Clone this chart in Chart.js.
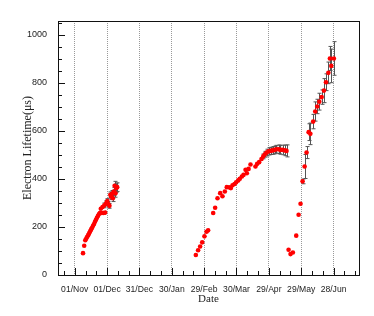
<!DOCTYPE html>
<html>
<head>
<meta charset="utf-8">
<script src="https://cdn.jsdelivr.net/npm/chart.js@4.4.1/dist/chart.umd.min.js"></script>
<style>
  html, body { margin: 0; padding: 0; background: #fff; }
  #wrap { width: 374px; height: 316px; }
</style>
</head>
<body>
<div id="wrap"><canvas id="lifetimeChart"></canvas></div>
<script>
// days counted from 01/Nov
var days = [
    7.7, 8.8, 9.8, 10.7, 11.6, 12.5, 13.4, 14.3, 15.2, 16.1, 17, 17.9, 18.8, 19.7, 20.6, 21.5, 22.4, 23.3,
    24.2, 25, 25.8, 26.6, 27.4, 28.2, 29.2, 30.2, 31.2, 32.2, 33, 33.8, 34.6, 35.4, 36.2, 37, 37.8, 38.6, 39.4,
    112.3, 114.4, 116.3, 118.2, 120.3, 122.2, 123.7, 128.4, 130.2, 132.4, 134.9, 137, 139.2, 141, 143.2,
    144.8, 146.3, 148.2, 149.7, 151.6, 153.1, 155, 156.5, 158.4, 159.6, 161.2, 163, 167.6, 169.2, 171,
    173.2, 174.8, 176.3, 177.9, 179.7, 181.6, 183.4, 185.3, 187.1, 189, 190.8, 192.7, 194.9, 196.4,
    198.3, 200.1, 202.3, 205.4, 207.6, 209.4, 211.3, 213.2, 215, 216.9, 218.5, 221.1, 223, 224.9, 226.8,
    229, 231.1, 233, 235.2, 236.6, 237.9, 240.3
];
var lifetime = [
    91, 122, 145, 152, 159, 166, 174, 182, 190, 197, 205, 212, 222, 230, 238, 246, 253, 258,
    276, 258, 283, 258, 290, 260, 300, 308, 296, 288, 334, 326, 338, 320, 348, 372, 340, 362, 366,
    83, 103, 119, 136, 161, 180, 186, 258, 280, 320, 341, 328, 348, 366, 365,
    362, 374, 379, 386, 394, 401, 410, 417, 438, 424, 442, 460, 452, 463, 470,
    483, 494, 503, 510, 515, 517, 519, 521, 524, 524, 521, 521, 519, 517,
    105, 87, 94, 164, 251, 297, 390, 452, 510, 595, 588, 639, 681, 702, 722,
    741, 768, 803, 842, 902, 871, 902
];
var errors = [
    3, 3, 3, 3, 3, 3, 4, 4, 4, 4, 4, 4, 5, 5, 5, 5, 5, 6,
    6, 6, 8, 8, 10, 8, 10, 10, 10, 10, 12, 12, 14, 14, 16, 18, 16, 18, 18,
    2, 2, 2, 3, 3, 3, 3, 3, 3, 4, 4, 4, 4, 4, 4,
    4, 5, 5, 5, 5, 5, 5, 6, 6, 6, 6, 6, 7, 7, 8,
    8, 10, 12, 14, 15, 15, 16, 16, 16, 18, 18, 20, 22, 25,
    3, 3, 3, 4, 5, 6, 10, 50, 25, 35, 45, 30, 40, 30, 35,
    30, 50, 35, 45, 50, 70, 70
];
var dateTicks = [0, 30, 60, 90, 120, 150, 180, 210, 240];
var dateLabels = ['01/Nov', '01/Dec', '31/Dec', '30/Jan', '29/Feb', '30/Mar', '29/Apr', '29/May', '28/Jun'];
var lifetimeTicks = [0, 200, 400, 600, 800, 1000];

// error bars, inward ticks and the frame, ROOT style
var rootStyle = {
    id: 'rootStyle',
    beforeDatasetsDraw: function (chart) {
        var ctx = chart.ctx, xs = chart.scales.x, ys = chart.scales.y;
        ctx.save();
        ctx.strokeStyle = '#555';
        ctx.lineWidth = 1;
        ctx.beginPath();
        for (var i = 0; i < days.length; i++) {
            var px = Math.round(xs.getPixelForValue(days[i])) + 0.5;
            var top = ys.getPixelForValue(lifetime[i] + errors[i]);
            var bot = ys.getPixelForValue(lifetime[i] - errors[i]);
            ctx.moveTo(px, top); ctx.lineTo(px, bot);
            if (errors[i] > 8) {
                ctx.moveTo(px - 2, top); ctx.lineTo(px + 2, top);
                ctx.moveTo(px - 2, bot); ctx.lineTo(px + 2, bot);
            }
        }
        ctx.stroke();
        ctx.restore();
    },
    afterDraw: function (chart) {
        var ctx = chart.ctx, a = chart.chartArea, xs = chart.scales.x, ys = chart.scales.y;
        ctx.save();
        ctx.strokeStyle = '#111';
        ctx.lineWidth = 1;
        ctx.beginPath();
        for (var d = -10; d <= 260; d += 10) {
            var px = Math.round(xs.getPixelForValue(d)) + 0.5;
            var len = (d % 30 === 0) ? 7 : 4;
            ctx.moveTo(px, a.bottom); ctx.lineTo(px, a.bottom - len);
        }
        for (var v = 0; v <= 1050; v += 50) {
            var py = Math.round(ys.getPixelForValue(v)) + 0.5;
            var l2 = (v % 200 === 0) ? 7 : 4;
            ctx.moveTo(a.left, py); ctx.lineTo(a.left + l2, py);
        }
        ctx.stroke();
        ctx.strokeRect(Math.round(a.left) + 0.5, Math.round(a.top) + 0.5,
            Math.round(a.right - a.left), Math.round(a.bottom - a.top));
        ctx.restore();
    }
};

var ctx = document.getElementById('lifetimeChart');
var chart = new Chart(ctx, {
    type: 'scatter',
    data: {
        datasets: [{
            label: 'Electron Lifetime',
            data: days.map(function (d, i) { return { x: d, y: lifetime[i] }; }),
            backgroundColor: '#ff0000',
            borderWidth: 0,
            pointRadius: 2.3,
            pointHoverRadius: 2.3
        }]
    },
    options: {
        responsive: true,
        maintainAspectRatio: false,
        animation: false,
        events: [],
        layout: { padding: { left: 0, right: 15, top: 21, bottom: 0 } },
        plugins: {
            legend: { display: false },
            tooltip: { enabled: false }
        },
        scales: {
            x: {
                type: 'linear',
                min: -15.5,
                max: 263.6,
                afterBuildTicks: function (scale) {
                    scale.ticks = dateTicks.map(function (v) { return { value: v }; });
                },
                afterFit: function (scale) { scale.height = 41; },
                ticks: {
                    autoSkip: false,
                    maxRotation: 0,
                    padding: 9,
                    color: '#222',
                    font: { family: 'Liberation Sans', size: 8.6 },
                    callback: function (value) {
                        return dateLabels[dateTicks.indexOf(value)];
                    }
                },
                grid: { color: '#999', lineWidth: 1, drawTicks: false },
                border: { display: false, dash: [1, 1] },
                title: {
                    display: true,
                    text: 'Date',
                    color: '#222',
                    font: { family: 'Liberation Serif', size: 11 },
                    padding: { top: 0, bottom: 10 }
                }
            },
            y: {
                min: 0,
                max: 1058,
                afterBuildTicks: function (scale) {
                    scale.ticks = lifetimeTicks.map(function (v) { return { value: v }; });
                },
                afterFit: function (scale) { scale.width = 58; },
                ticks: {
                    padding: 3,
                    color: '#222',
                    font: { family: 'Liberation Sans', size: 9 },
                    callback: function (value) { return String(value); }
                },
                grid: { display: false },
                border: { display: false },
                title: {
                    display: true,
                    text: 'Electron Lifetime(μs)',
                    color: '#222',
                    font: { family: 'Liberation Serif', size: 12 },
                    padding: { top: 21, bottom: 0 }
                }
            }
        }
    },
    plugins: [rootStyle]
});
</script>
</body>
</html>
